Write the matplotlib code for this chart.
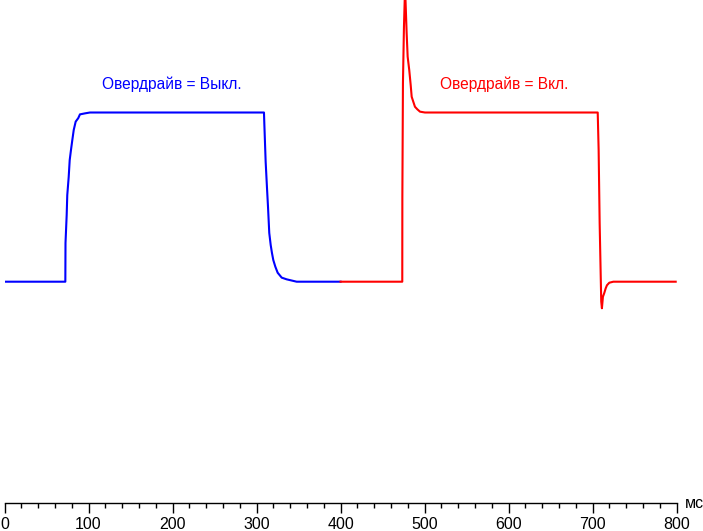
import matplotlib
matplotlib.use('Agg')
import matplotlib.pyplot as plt
from matplotlib.ticker import MultipleLocator

plt.rcParams['font.family'] = ['Liberation Sans', 'DejaVu Sans']

# отклик матрицы, % от уровня полки; время в мс
t_off = [0, 72.4, 72.6, 74.0, 74.7, 76.4, 77.6, 79.1, 80.7, 82.4, 84.7, 87.8,
         89.8, 95.8, 101.7, 308.8, 309.2, 310.8, 312.4, 313.6, 315.1, 316.8,
         318.3, 319.9, 322.3, 325.1, 329.9, 335.8, 347.7, 400]
v_off = [0, 0, 22.9, 39.4, 51.2, 61.9, 71.9, 77.8, 83.7, 89.7, 94.6, 96.7,
         98.9, 99.5, 100, 100, 93.8, 70.9, 55.4, 44.3, 28.8, 21.7,
         17.0, 12.8, 8.9, 5.3, 2.4, 1.4, 0, 0]

t_on = [400, 473.4, 473.5, 474.2, 475.4, 476.3, 477.0, 478.6, 479.8, 481.7,
        483.4, 484.6, 486.5, 488.5, 491.3, 494.5, 500.4, 706.0, 707.1, 708.3,
        709.5, 710.2, 711.0, 712.2, 713.8, 715.5, 717.0, 719.8, 724.6, 798.8]
v_on = [0, 0, 50.2, 117.4, 150.7, 166.5, 170, 147, 133, 125.1,
        116.3, 109.3, 106.4, 103.4, 101.9, 100.5, 100, 100, 77.8, 34.7,
        5.1, -11.8, -15.7, -8.9, -6.7, -3.9, -2.1, -0.6, 0, 0]

label_off = 'Овердрайв = Выкл.'
label_on = 'Овердрайв = Вкл.'

W, H = 703, 531
fig = plt.figure(figsize=(W / 100, H / 100), dpi=100)
x0, x1, yb = 4.5, 676.7, 503
ax = fig.add_axes([x0 / W, 1 - yb / H, (x1 - x0) / W, yb / H])

ax.plot(t_off, v_off, color='#0000ff', lw=1.5)
ax.plot(t_on, v_on, color='#ff0000', lw=1.5)

ax.set_xlim(0, 800)
ax.set_ylim(-130.8, 166.5)

ax.text(115.7, 116.8, label_off, color='#0000ff', fontsize=11.2, ha='left', va='center')
ax.text(518.3, 116.8, label_on, color='#ff0000', fontsize=11.2, ha='left', va='center')

for s in ['top', 'left', 'right']:
    ax.spines[s].set_visible(False)
ax.spines['bottom'].set_linewidth(1)
ax.yaxis.set_visible(False)
ax.xaxis.set_major_locator(MultipleLocator(100))
ax.xaxis.set_minor_locator(MultipleLocator(20))
ax.tick_params(axis='x', which='major', length=7.2, width=1, direction='out',
               labelsize=11.5, pad=3)
ax.tick_params(axis='x', which='minor', length=3.6, width=1, direction='out')
ax.patch.set_alpha(0)

fig.text(685 / W, 1 - 503.5 / H, 'мс', fontsize=11.5, ha='left', va='center')

fig.savefig('out.png', dpi=100)
